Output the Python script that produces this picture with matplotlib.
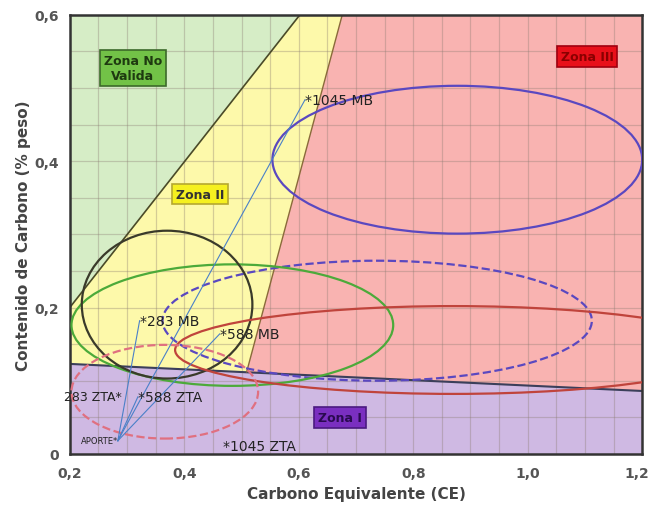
import numpy as np
import matplotlib.pyplot as plt
import matplotlib.transforms as mtransforms
from matplotlib.patches import Ellipse, Polygon

# limites de zonas (diagrama de Graville)
ce_range = [0.2, 1.2]
zona1_c = [0.123, 0.086]          # linea inferior Zona I (C en CE=0.2 y CE=1.2)
linea_nv_ce = [0.2, 0.602]        # limite Zona No Valida / Zona II
linea_nv_c = [0.2, 0.6]
linea_r_ce = [0.509, 0.676]       # limite Zona II / Zona III
linea_r_c = [0.112, 0.6]

# elipses: centro CE, centro C, ancho, alto, color, estilo
elip_cx = [0.877, 0.737, 0.484, 0.370, 0.870, 0.366]
elip_cy = [0.402, 0.182, 0.176, 0.204, 0.142, 0.085]
elip_w = [0.646, 0.750, 0.562, 0.298, 0.972, 0.326]
elip_h = [0.202, 0.164, 0.166, 0.202, 0.120, 0.128]
elip_col = ['#5a48c0', '#5a48c0', '#4caa3a', '#3a3a2a', '#c0443c', '#e07080']
elip_ls = ['-', '--', '-', '-', '-', '--']

# puntos
pt_names = ['1045 MB', '283 MB', '588 MB', '283 ZTA', '588 ZTA', 'APORTE', '1045 ZTA']
pt_ce = [0.611, 0.322, 0.462, 0.291, 0.319, 0.284, 0.468]
pt_c = [0.484, 0.182, 0.164, 0.078, 0.078, 0.018, 0.011]
lineas_aporte = ['1045 MB', '283 MB', '588 MB', '588 ZTA']

fig = plt.figure(figsize=(6.52, 5.10), dpi=100)
ax = fig.add_axes([0.107, 0.108, 0.878, 0.861])
ax.set_xlim(0.2, 1.2)
ax.set_ylim(0, 0.6)

def z1(ce):
    return zona1_c[0] + (zona1_c[1] - zona1_c[0]) * (ce - ce_range[0]) / (ce_range[1] - ce_range[0])

# zonas coloreadas
ax.add_patch(Polygon([(0.2, 0), (1.2, 0), (1.2, z1(1.2)), (0.2, z1(0.2))],
                     fc='#cfb9e3', ec='none', zorder=0))
ax.add_patch(Polygon([(linea_nv_ce[0], linea_nv_c[0]), (linea_nv_ce[1], linea_nv_c[1]), (0.2, 0.6)],
                     fc='#d6edc6', ec='none', zorder=0))
ax.add_patch(Polygon([(0.2, z1(0.2)), (linea_r_ce[0], z1(linea_r_ce[0])), (linea_r_ce[1], linea_r_c[1]),
                      (linea_nv_ce[1], linea_nv_c[1]), (linea_nv_ce[0], linea_nv_c[0])],
                     fc='#fdf9aa', ec='none', zorder=0))
ax.add_patch(Polygon([(linea_r_ce[0], z1(linea_r_ce[0])), (1.2, z1(1.2)), (1.2, 0.6), (linea_r_ce[1], linea_r_c[1])],
                     fc='#f9b3b1', ec='none', zorder=0))

ax.set_xticks(np.arange(0.2, 1.21, 0.05), minor=True)
ax.set_yticks(np.arange(0, 0.61, 0.05), minor=True)
ax.grid(which='both', color='#8a7a70', alpha=0.35, lw=0.9, zorder=1)
ax.set_axisbelow(True)

ax.plot(ce_range, zona1_c, color='#3b3f5a', lw=1.5, zorder=2)
ax.plot(linea_nv_ce, linea_nv_c, color='#4a4a28', lw=1.2, zorder=2)
ax.plot(linea_r_ce, linea_r_c, color='#8a6a3a', lw=1.0, zorder=2)

for cx, cy, w, h, col, ls in zip(elip_cx, elip_cy, elip_w, elip_h, elip_col, elip_ls):
    ax.add_patch(Ellipse((cx, cy), w, h, fill=False, ec=col, ls=ls, lw=1.6, zorder=3))

# lineas desde el aporte
i_ap = pt_names.index('APORTE')
for nm in lineas_aporte:
    i = pt_names.index(nm)
    ax.plot([pt_ce[i_ap], pt_ce[i]], [pt_c[i_ap], pt_c[i]], color='#4a80c8', lw=0.8, zorder=4)

for nm, x, y in zip(pt_names, pt_ce, pt_c):
    if nm == 'APORTE':
        ax.text(x, y, nm + '*', fontsize=6, ha='right', va='center', color='#222', zorder=5)
    elif nm == '283 ZTA':
        ax.text(x, y, nm + '*', fontsize=9, ha='right', va='center', color='#222', zorder=5)
    else:
        ax.text(x, y, '*' + nm, fontsize=10, ha='left', va='center', color='#222', zorder=5)

box = dict(boxstyle='square,pad=0.3', lw=1.2)
ax.text(0.31, 0.527, 'Zona No\nValida', fontsize=9, fontweight='bold', ha='center', va='center',
        color='#1e3a10', bbox=dict(box, fc='#72c247', ec='#3c6a2a'), zorder=6)
ax.text(0.428, 0.355, 'Zona II', fontsize=9, fontweight='bold', ha='center', va='center',
        color='#333', bbox=dict(box, fc='#f5f020', ec='#b5a830'), zorder=6)
ax.text(1.104, 0.543, 'Zona III', fontsize=9, fontweight='bold', ha='center', va='center',
        color='#8a0000', bbox=dict(box, fc='#e8101a', ec='#a00010'), zorder=6)
ax.text(0.672, 0.05, 'Zona I', fontsize=9, fontweight='bold', ha='center', va='center',
        color='#2a0a50', bbox=dict(box, fc='#7a2fc0', ec='#4a1a80'), zorder=6)

ax.set_xticks([0.2, 0.4, 0.6, 0.8, 1.0, 1.2])
ax.set_xticklabels(['0,2', '0,4', '0,6', '0,8', '1,0', '1,2'])
ax.set_yticks([0, 0.2, 0.4, 0.6])
ax.set_yticklabels(['0', '0,2', '0,4', '0,6'])
ax.tick_params(which='both', length=0, labelsize=10, labelcolor='#555')
ax.tick_params(axis='x', pad=9)
ax.tick_params(axis='y', pad=8)
for lb in ax.get_xticklabels() + ax.get_yticklabels():
    lb.set_fontweight('bold')
# la ultima etiqueta un poco a la izquierda para que no se corte
last = ax.get_xticklabels()[-1]
last.set_transform(last.get_transform() + mtransforms.ScaledTranslation(-4 / 72, 0, fig.dpi_scale_trans))
for sp in ax.spines.values():
    sp.set_color('#333')
    sp.set_linewidth(1.8)

ax.set_xlabel('Carbono Equivalente (CE)', fontsize=11, fontweight='bold', color='#444', labelpad=4)
ax.set_ylabel('Contenido de Carbono (% peso)', fontsize=11, fontweight='bold', color='#444', labelpad=2)

fig.savefig('out.png', dpi=100)
